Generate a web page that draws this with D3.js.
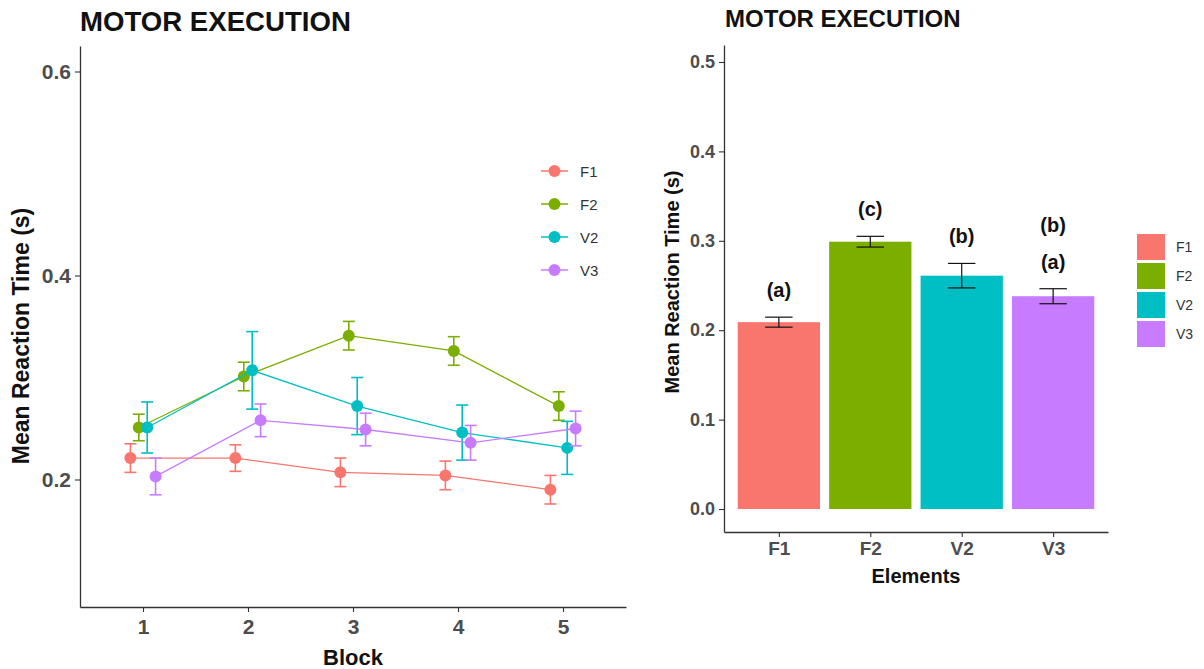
<!DOCTYPE html>
<html>
<head>
<meta charset="utf-8">
<script src="https://cdn.jsdelivr.net/npm/d3@7"></script>
<style>
  html, body { margin: 0; padding: 0; background: #fff; }
  svg { display: block; font-family: Arial, "Liberation Sans", sans-serif; }
</style>
</head>
<body>
<svg id="chart" width="1204" height="669"></svg>
<script>
// ---- Data: reaction times per block (left) and per element (right) ----
const blocks = [1, 2, 3, 4, 5];
const groups = ["F1", "F2", "V2", "V3"];
const groupColors = ["#F8766D", "#7CAE00", "#00BFC4", "#C77CFF"];

const f1Mean = [0.221, 0.221, 0.207, 0.204, 0.190];
const f1Se   = [0.014, 0.013, 0.014, 0.014, 0.014];
const f2Mean = [0.251, 0.301, 0.341, 0.326, 0.272];
const f2Se   = [0.013, 0.014, 0.014, 0.014, 0.014];
const v2Mean = [0.251, 0.307, 0.272, 0.246, 0.231];
const v2Se   = [0.025, 0.038, 0.028, 0.027, 0.026];
const v3Mean = [0.203, 0.258, 0.249, 0.236, 0.250];
const v3Se   = [0.018, 0.016, 0.016, 0.017, 0.017];

const elementMeans = [0.209, 0.299, 0.261, 0.238];
const elementSe    = [0.0056, 0.006, 0.0137, 0.0084];
const elementLetters = [["(a)"], ["(c)"], ["(b)"], ["(b)", "(a)"]];

const leftTicks  = [0.2, 0.4, 0.6];
const rightTicks = [0.0, 0.1, 0.2, 0.3, 0.4, 0.5];

const titleText = "MOTOR EXECUTION";
const yTitle = "Mean Reaction Time (s)";

const svg = d3.select("#chart");
const axisColor = "#333333";
const tickTextColor = "#4d4d4d";

function styleAxis(g, fontSize) {
  g.select(".domain").attr("stroke", axisColor).attr("stroke-width", 1.3);
  g.selectAll(".tick line").attr("stroke", axisColor).attr("stroke-width", 1.1);
  g.selectAll(".tick text")
    .attr("fill", tickTextColor)
    .style("font-size", fontSize + "px")
    .style("font-weight", "bold")
    .style("font-family", "Arial, 'Liberation Sans', sans-serif");
}

// ================= Left panel: line chart by block =================
(function () {
  const series = [
    { name: "F1", mean: f1Mean, se: f1Se },
    { name: "F2", mean: f2Mean, se: f2Se },
    { name: "V2", mean: v2Mean, se: v2Se },
    { name: "V3", mean: v3Mean, se: v3Se }
  ];
  const color = d3.scaleOrdinal().domain(groups).range(groupColors);

  const x = d3.scalePoint().domain(blocks).range([80, 626]).padding(0.6);
  const y = d3.scaleLinear().domain([0.075, 0.625]).range([607, 46]);
  const dodge = d3.scalePoint().domain(groups).range([-0.12, 0.12]);
  const xd = (b, g) => x(b) + dodge(g) * x.step();

  const g = svg.append("g");

  // axes
  const ya = g.append("g").attr("transform", "translate(80,0)")
    .call(d3.axisLeft(y).tickValues(leftTicks).tickFormat(d3.format(".1f")).tickSize(5).tickSizeOuter(0).tickPadding(4));
  styleAxis(ya, 21);
  const xa = g.append("g").attr("transform", "translate(0,607)")
    .call(d3.axisBottom(x).tickSize(5).tickSizeOuter(0).tickPadding(7));
  styleAxis(xa, 21);

  const plot = g.append("g");
  series.forEach(s => {
    const c = color(s.name);
    const pts = blocks.map((b, i) => ({ b, m: s.mean[i], e: s.se[i] }));
    plot.append("path")
      .datum(pts)
      .attr("fill", "none")
      .attr("stroke", c)
      .attr("stroke-width", 1.3)
      .attr("d", d3.line().x(d => xd(d.b, s.name)).y(d => y(d.m)));
    const eb = plot.append("g").attr("stroke", c).attr("stroke-width", 1.6).attr("fill", "none");
    pts.forEach(d => {
      const cx = xd(d.b, s.name);
      const y1 = y(d.m + d.e), y0 = y(d.m - d.e);
      eb.append("line").attr("x1", cx).attr("x2", cx).attr("y1", y1).attr("y2", y0);
      eb.append("line").attr("x1", cx - 6).attr("x2", cx + 6).attr("y1", y1).attr("y2", y1);
      eb.append("line").attr("x1", cx - 6).attr("x2", cx + 6).attr("y1", y0).attr("y2", y0);
    });
    plot.append("g").selectAll("circle").data(pts).join("circle")
      .attr("cx", d => xd(d.b, s.name))
      .attr("cy", d => y(d.m))
      .attr("r", 6)
      .attr("fill", c);
  });

  // titles
  g.append("text").attr("x", 80).attr("y", 31)
    .style("font-size", "27.6px").style("font-weight", "bold").attr("fill", "#111")
    .text(titleText);
  g.append("text").attr("x", 353).attr("y", 665).attr("text-anchor", "middle")
    .style("font-size", "22px").style("font-weight", "bold").attr("fill", "#111")
    .text("Block");
  g.append("text")
    .attr("transform", "translate(29,336) rotate(-90)")
    .attr("text-anchor", "middle")
    .style("font-size", "23px").style("font-weight", "bold").attr("fill", "#111")
    .text(yTitle);

  // legend
  const leg = g.append("g").attr("transform", "translate(541,171)");
  groups.forEach((name, i) => {
    const row = leg.append("g").attr("transform", `translate(0,${i * 33})`);
    row.append("line").attr("x1", 0).attr("x2", 27).attr("y1", 0).attr("y2", 0)
      .attr("stroke", color(name)).attr("stroke-width", 1.5);
    row.append("circle").attr("cx", 13.5).attr("cy", 0).attr("r", 6).attr("fill", color(name));
    row.append("text").attr("x", 39).attr("y", 5.5)
      .style("font-size", "15px").attr("fill", "#333").text(name);
  });
})();

// ================= Right panel: bar chart by element =================
(function () {
  const color = d3.scaleOrdinal().domain(groups).range(groupColors);
  const x = d3.scalePoint().domain(groups).range([724, 1108]).padding(0.6);
  const y = d3.scaleLinear().domain([-0.0257, 0.519]).range([532, 45]);
  const barW = x.step() * 0.9;
  const capW = x.step() * 0.3;

  const g = svg.append("g");

  const data = groups.map((name, i) => ({
    name, m: elementMeans[i], e: elementSe[i], letters: elementLetters[i]
  }));

  g.append("g").selectAll("rect").data(data).join("rect")
    .attr("x", d => x(d.name) - barW / 2)
    .attr("width", barW)
    .attr("y", d => y(d.m))
    .attr("height", d => y(0) - y(d.m))
    .attr("fill", d => color(d.name));

  const eb = g.append("g").attr("stroke", "#111").attr("stroke-width", 1.2);
  data.forEach(d => {
    const cx = x(d.name);
    const y1 = y(d.m + d.e), y0 = y(d.m - d.e);
    eb.append("line").attr("x1", cx).attr("x2", cx).attr("y1", y1).attr("y2", y0);
    eb.append("line").attr("x1", cx - capW / 2).attr("x2", cx + capW / 2).attr("y1", y1).attr("y2", y1);
    eb.append("line").attr("x1", cx - capW / 2).attr("x2", cx + capW / 2).attr("y1", y0).attr("y2", y0);
  });

  // group letters above the error bars
  data.forEach(d => {
    const top = y(d.m + d.e);
    const n = d.letters.length;
    d.letters.forEach((t, j) => {
      g.append("text")
        .attr("x", x(d.name))
        .attr("y", top - 20 - (n - 1 - j) * 37)
        .attr("text-anchor", "middle")
        .style("font-size", "20px").style("font-weight", "bold").attr("fill", "#111")
        .text(t);
    });
  });

  const ya = g.append("g").attr("transform", "translate(724,0)")
    .call(d3.axisLeft(y).tickValues(rightTicks).tickFormat(d3.format(".1f")).tickSize(5).tickSizeOuter(0).tickPadding(4));
  styleAxis(ya, 18);
  const xa = g.append("g").attr("transform", "translate(0,532)")
    .call(d3.axisBottom(x).tickSize(5).tickSizeOuter(0).tickPadding(5));
  styleAxis(xa, 19);

  g.append("text").attr("x", 725).attr("y", 27)
    .style("font-size", "24px").style("font-weight", "bold").attr("fill", "#111")
    .text(titleText);
  g.append("text").attr("x", 916).attr("y", 583).attr("text-anchor", "middle")
    .style("font-size", "20px").style("font-weight", "bold").attr("fill", "#111")
    .text("Elements");
  g.append("text")
    .attr("transform", "translate(679,282) rotate(-90)")
    .attr("text-anchor", "middle")
    .style("font-size", "20px").style("font-weight", "bold").attr("fill", "#111")
    .text(yTitle);

  // legend
  const leg = g.append("g").attr("transform", "translate(1137,234)");
  groups.forEach((name, i) => {
    const row = leg.append("g").attr("transform", `translate(0,${i * 29})`);
    row.append("rect").attr("width", 28).attr("height", 26).attr("fill", color(name));
    row.append("text").attr("x", 39).attr("y", 18)
      .style("font-size", "14px").attr("fill", "#333").text(name);
  });
})();
</script>
</body>
</html>
